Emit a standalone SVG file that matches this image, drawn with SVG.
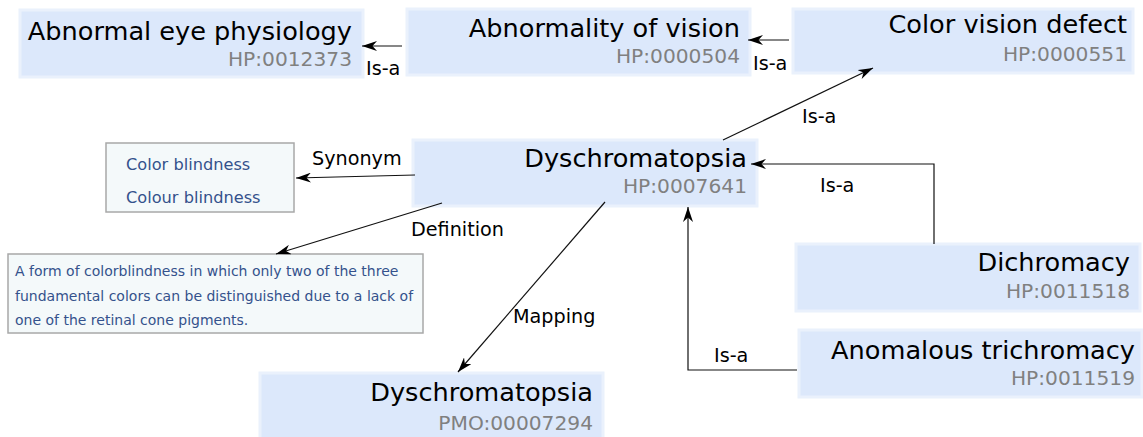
<svg xmlns="http://www.w3.org/2000/svg" width="1143" height="437" viewBox="0 0 1143 437">
  <defs>
    <marker id="arrow" viewBox="0 0 15 10" refX="15" refY="5" markerWidth="15" markerHeight="10" orient="auto" markerUnits="userSpaceOnUse">
      <path d="M0,0 L15,5 L0,10 L4.5,5 Z" fill="#000"/>
    </marker>
    <style>
      .term rect { fill: #dce8fb; stroke: #eaf1fc; stroke-width: 3; }
      .title { font-family: "DejaVu Sans", sans-serif; font-size: 25.6px; fill: #000; text-anchor: end; }
      .id { font-family: "DejaVu Sans", sans-serif; font-size: 20.2px; fill: #808080; text-anchor: end; }
      .info rect { fill: #f4f9fa; stroke: #a8a8a8; stroke-width: 1.5; }
      .info text { font-family: "DejaVu Sans", sans-serif; fill: #34528c; }
      .edge { fill: none; stroke: #111; stroke-width: 1.2; marker-end: url(#arrow); }
      .label { font-family: "DejaVu Sans", sans-serif; font-size: 19.2px; fill: #000; }
    </style>
  </defs>

  <!-- ontology terms -->
  <g id="hp-0012373" class="term">
    <rect x="20" y="10" width="343" height="67"/>
    <text class="title" x="352" y="40">Abnormal eye physiology</text>
    <text class="id" x="352" y="66">HP:0012373</text>
  </g>
  <g id="hp-0000504" class="term">
    <rect x="407" y="9" width="343" height="66"/>
    <text class="title" x="740" y="37">Abnormality of vision</text>
    <text class="id" x="740" y="63">HP:0000504</text>
  </g>
  <g id="hp-0000551" class="term">
    <rect x="793" y="9" width="340" height="64"/>
    <text class="title" x="1127" y="33">Color vision defect</text>
    <text class="id" x="1127" y="61">HP:0000551</text>
  </g>
  <g id="hp-0007641" class="term">
    <rect x="413" y="140" width="344" height="66"/>
    <text class="title" x="747" y="167">Dyschromatopsia</text>
    <text class="id" x="747" y="193">HP:0007641</text>
  </g>
  <g id="hp-0011518" class="term">
    <rect x="796" y="244" width="344" height="67"/>
    <text class="title" x="1130" y="271">Dichromacy</text>
    <text class="id" x="1130" y="298">HP:0011518</text>
  </g>
  <g id="hp-0011519" class="term">
    <rect x="799" y="330" width="343" height="67"/>
    <text class="title" x="1135" y="359">Anomalous trichromacy</text>
    <text class="id" x="1135" y="385">HP:0011519</text>
  </g>
  <g id="pmo-00007294" class="term">
    <rect x="260" y="373" width="343" height="68"/>
    <text class="title" x="593" y="401">Dyschromatopsia</text>
    <text class="id" x="593" y="430">PMO:00007294</text>
  </g>

  <!-- synonyms and definition -->
  <g id="synonyms" class="info">
    <rect x="106" y="143" width="188" height="69"/>
    <text x="126" y="170" font-size="16.2">Color blindness</text>
    <text x="126" y="203" font-size="16.2">Colour blindness</text>
  </g>
  <g id="definition" class="info">
    <rect x="8" y="254" width="415" height="79"/>
    <text x="15" y="276" font-size="14">A form of colorblindness in which only two of the three</text>
    <text x="15" y="301" font-size="14">fundamental colors can be distinguished due to a lack of</text>
    <text x="15" y="325" font-size="14">one of the retinal cone pigments.</text>
  </g>

  <!-- relations -->
  <g id="connectors">
    <line class="edge" x1="402" y1="46" x2="362" y2="46"/>
    <line class="edge" x1="789" y1="40" x2="748" y2="40"/>
    <line class="edge" x1="723" y1="140" x2="873" y2="68"/>
    <line class="edge" x1="415" y1="175" x2="296" y2="178"/>
    <line class="edge" x1="442" y1="203" x2="276" y2="254"/>
    <line class="edge" x1="605" y1="202" x2="458" y2="372"/>
    <polyline class="edge" points="934,244 934,164 751,164"/>
    <polyline class="edge" points="797,370 688,370 688,207"/>
  </g>
  <g id="connector-labels">
    <text class="label" x="366" y="75">Is-a</text>
    <text class="label" x="753" y="70">Is-a</text>
    <text class="label" x="802" y="123">Is-a</text>
    <text class="label" x="312" y="165">Synonym</text>
    <text class="label" x="411" y="236">Definition</text>
    <text class="label" x="513" y="323">Mapping</text>
    <text class="label" x="820" y="192">Is-a</text>
    <text class="label" x="714" y="362">Is-a</text>
  </g>
</svg>
